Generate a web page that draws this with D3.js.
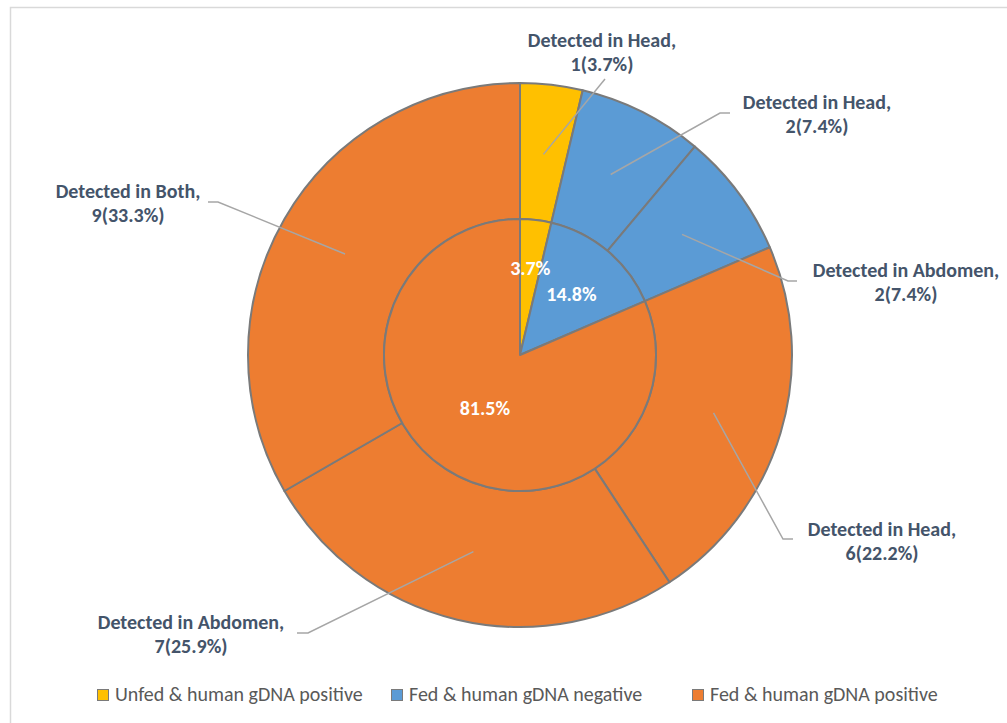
<!DOCTYPE html>
<html>
<head>
<meta charset="utf-8">
<script src="https://cdn.jsdelivr.net/npm/d3@7"></script>
<style>
  html, body { margin: 0; padding: 0; background: #ffffff; }
  svg { display: block; }
  text { font-family: Carlito, Calibri, Lato, "Liberation Sans", sans-serif; }
</style>
</head>
<body>
<svg id="chart" width="1007" height="723"></svg>
<script>
// Inner pie: feeding / human gDNA status
const innerCategories = ["Unfed & human gDNA positive", "Fed & human gDNA negative", "Fed & human gDNA positive"];
const innerValues = [1, 4, 22];
const innerLabels = ["3.7%", "14.8%", "81.5%"];

// Outer ring: detection site within each group
const outerGroups = [0, 1, 1, 2, 2, 2];
const outerSites = ["Detected in Head", "Detected in Head", "Detected in Abdomen", "Detected in Head", "Detected in Abdomen", "Detected in Both"];
const outerValues = [1, 2, 2, 6, 7, 9];
const outerPercents = ["3.7%", "7.4%", "7.4%", "22.2%", "25.9%", "33.3%"];

const colors = ["#FFC000", "#5B9BD5", "#ED7D31"];

const svg = d3.select("#chart");
const W = 1007, H = 723;
const cx = 520, cy = 355;
const rInner = 136, rOuter = 272;

// chart frame
svg.append("path")
  .attr("d", `M10.5,${H} L10.5,7.5 L${W},7.5`)
  .attr("fill", "none")
  .attr("stroke", "#d9d9d9")
  .attr("stroke-width", 1.5);

const g = svg.append("g").attr("transform", `translate(${cx},${cy})`);
const pie = d3.pie().sort(null).value(d => d);

const innerArcs = pie(innerValues);
const outerArcs = pie(outerValues);

const arcInner = d3.arc().innerRadius(0).outerRadius(rInner);
const arcOuter = d3.arc().innerRadius(rInner).outerRadius(rOuter);

g.selectAll("path.outer")
  .data(outerArcs)
  .join("path")
  .attr("class", "outer")
  .attr("d", arcOuter)
  .attr("fill", (d, i) => colors[outerGroups[i]])
  .attr("stroke", "#7a7a7a")
  .attr("stroke-width", 2)
  .attr("stroke-linejoin", "round");

g.selectAll("path.inner")
  .data(innerArcs)
  .join("path")
  .attr("class", "inner")
  .attr("d", arcInner)
  .attr("fill", (d, i) => colors[i])
  .attr("stroke", "#7a7a7a")
  .attr("stroke-width", 2)
  .attr("stroke-linejoin", "round");

// inner percentage labels, placed along each slice's mid-angle
const innerLabelRadius = [88, 80, 64];
innerArcs.forEach((d, i) => {
  const a = (d.startAngle + d.endAngle) / 2;
  const r = innerLabelRadius[i];
  g.append("text")
    .attr("x", r * Math.sin(a))
    .attr("y", -r * Math.cos(a) + 7)
    .attr("text-anchor", "middle")
    .attr("fill", "#ffffff")
    .attr("font-weight", "bold")
    .attr("font-size", 20)
    .text(innerLabels[i]);
});

// outer labels with leader lines (elbow, end of horizontal tail, label centre, first baseline)
const outerLayout = [
  { ex: 605, ey: 79, hx: 605, tx: 602, ty: 47 },
  { ex: 720, ey: 113, hx: 730, tx: 817, ty: 109 },
  { ex: 788, ey: 281, hx: 797, tx: 906, ty: 277 },
  { ex: 783, ey: 539, hx: 793, tx: 882, ty: 536 },
  { ex: 308, ey: 633, hx: 297, tx: 191, ty: 629 },
  { ex: 218, ey: 202, hx: 208, tx: 128, ty: 198 }
];
const leaderRadius = 202;

outerArcs.forEach((d, i) => {
  const a = (d.startAngle + d.endAngle) / 2;
  const sx = cx + leaderRadius * Math.sin(a);
  const sy = cy - leaderRadius * Math.cos(a);
  const L = outerLayout[i];
  svg.append("polyline")
    .attr("points", `${sx},${sy} ${L.ex},${L.ey} ${L.hx},${L.ey}`)
    .attr("fill", "none")
    .attr("stroke", "#a6a6a6")
    .attr("stroke-width", 1.5);
  const t = svg.append("text")
    .attr("text-anchor", "middle")
    .attr("fill", "#44546A")
    .attr("font-weight", "bold")
    .attr("font-size", 20);
  t.append("tspan").attr("x", L.tx).attr("y", L.ty).text(outerSites[i] + ",");
  t.append("tspan").attr("x", L.tx).attr("y", L.ty + 24)
    .text(outerValues[i] + "(" + outerPercents[i] + ")");
});

// legend
const legendX = [97, 391, 692];
const legend = svg.append("g");
innerCategories.forEach((c, i) => {
  legend.append("rect")
    .attr("x", legendX[i] + 0.5)
    .attr("y", 689.5)
    .attr("width", 11)
    .attr("height", 11)
    .attr("fill", colors[i])
    .attr("stroke", "#7a7a7a")
    .attr("stroke-width", 1);
  legend.append("text")
    .attr("x", legendX[i] + 18)
    .attr("y", 701)
    .attr("fill", "#595959")
    .attr("font-size", 20)
    .text(c);
});
</script>
</body>
</html>
